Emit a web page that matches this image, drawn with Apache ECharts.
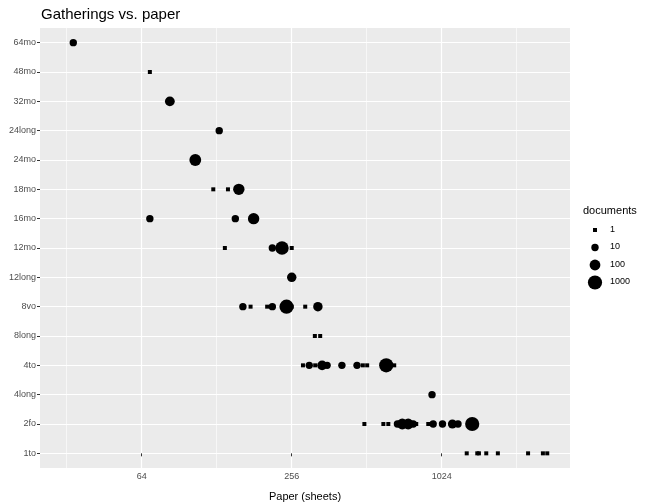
<!DOCTYPE html>
<html><head><meta charset="utf-8">
<script src="https://cdn.jsdelivr.net/npm/echarts@6/dist/echarts.min.js"></script>
<style>html,body{margin:0;background:#fff}#c{width:648px;height:504px}</style>
</head><body><div id="c"></div>
<script>
// 格式类别（自下而上）
const sizes = ['1to','2fo','4long','4to','8long','8vo','12long','12mo','16mo','18mo','24mo','24long','32mo','48mo','64mo'];
// 每个点：格式、纸张数、文献数
const rowSize = ['64mo','48mo','32mo','24long','24mo','18mo','18mo','18mo','16mo','16mo','16mo',
  '12mo','12mo','12mo','12mo','12long',
  '8vo','8vo','8vo','8vo','8vo','8vo','8vo','8vo','8long','8long',
  '4to','4to','4to','4to','4to','4to','4to','4to','4to','4to','4to','4long',
  '2fo','2fo','2fo','2fo','2fo','2fo','2fo','2fo','2fo','2fo','2fo','2fo','2fo','2fo',
  '1to','1to','1to','1to','1to','1to','1to','1to'];
const paper = [34,69,83,131,105,124,142,157,69,152,180,
  138,214,234,256,256,
  163,175,204,214,244,256,290,326,317,333,
  284,301,318,339,355,407,468,494,514,613,660,936,
  501,597,625,680,711,751,787,809,904,946,1031,1130,1190,1357,
  1290,1422,1444,1545,1720,2274,2608,2715];
const documents = [10,1,50,10,200,1,1,150,10,10,150,
  1,10,600,1,40,
  10,1,1,10,1000,1,1,40,1,1,
  1,10,1,50,10,10,10,1,1,1000,1,10,
  1,1,1,10,100,100,10,1,1,10,10,30,10,1000,
  1,1,1,1,1,1,1,1];
const legendVals = [1,10,100,1000];

const symSize = d => d <= 1 ? 4 : 4 + 3.4 * Math.log10(d);

const pts = paper.map((p, i) => ({
  value: [p, sizes.indexOf(rowSize[i])],
  symbol: documents[i] <= 1 ? 'rect' : 'circle',
  symbolSize: symSize(documents[i])
}));

const chart = echarts.init(document.getElementById('c'));
const font = 'Liberation Sans, Arial, sans-serif';
const xCommon = {
  type: 'log', logBase: 2, min: 25, max: 3350,
  axisLine: {show: false}
};
chart.setOption({
  animation: false,
  textStyle: {fontFamily: font},
  title: {text: 'Gatherings vs. paper', left: 36, top: 2,
    textStyle: {fontSize: 15, fontWeight: 'normal', color: '#000', fontFamily: font}},
  grid: {left: 40, right: 78, top: 28, bottom: 36, outerBoundsMode: 'none', containLabel: false,
    show: true, backgroundColor: '#ebebeb', borderWidth: 0},
  xAxis: [Object.assign({}, xCommon, {
    name: 'Paper (sheets)', nameLocation: 'middle', nameGap: 23,
    nameTextStyle: {fontSize: 11, color: '#000'},
    axisTick: {customValues: [64,256,1024], length: 3, lineStyle: {color: '#333'}},
    axisLabel: {customValues: [64,256,1024], formatter: v => String(Math.round(v)),
      fontSize: 9, color: '#4d4d4d', margin: 4},
    splitLine: {show: true, lineStyle: {color: '#fff', width: 1.2}}
  }), Object.assign({}, xCommon, {
    position: 'bottom',
    axisTick: {show: true, length: 0, customValues: [32,128,512,2048]},
    axisLabel: {show: false, customValues: [32,128,512,2048]},
    splitLine: {show: true, lineStyle: {color: '#fff', width: 0.6}}
  })],
  yAxis: {
    type: 'value', min: -0.5, max: 14.5,
    name: 'Size (gatherings)', nameLocation: 'middle', nameGap: 32, nameRotate: 90,
    nameTextStyle: {fontSize: 11, color: '#000'},
    axisLine: {show: false},
    axisTick: {customValues: sizes.map((s, i) => i), length: 3, lineStyle: {color: '#333'}},
    axisLabel: {customValues: sizes.map((s, i) => i), formatter: v => sizes[Math.round(v)],
      fontSize: 9, color: '#4d4d4d', margin: 4},
    splitLine: {show: true, lineStyle: {color: '#fff', width: 1.2}}
  },
  series: [{type: 'scatter', data: pts, itemStyle: {color: '#000', opacity: 1}, z: 5}],
  graphic: [{type: 'text', left: 583, top: 205,
    style: {text: 'documents', fontSize: 11, fill: '#000', fontFamily: font}}]
    .concat(legendVals.map((v, i) => ({
      type: v <= 1 ? 'rect' : 'circle',
      shape: v <= 1 ? {x: 593, y: 228 + i * 17.5, width: 4, height: 4}
                    : {cx: 595, cy: 230 + i * 17.5, r: symSize(v) / 2},
      style: {fill: '#000'}
    })))
    .concat(legendVals.map((v, i) => ({
      type: 'text', left: 610, top: 225 + i * 17.5,
      style: {text: String(v), fontSize: 9, fill: '#000', fontFamily: font}
    })))
});
</script></body></html>
